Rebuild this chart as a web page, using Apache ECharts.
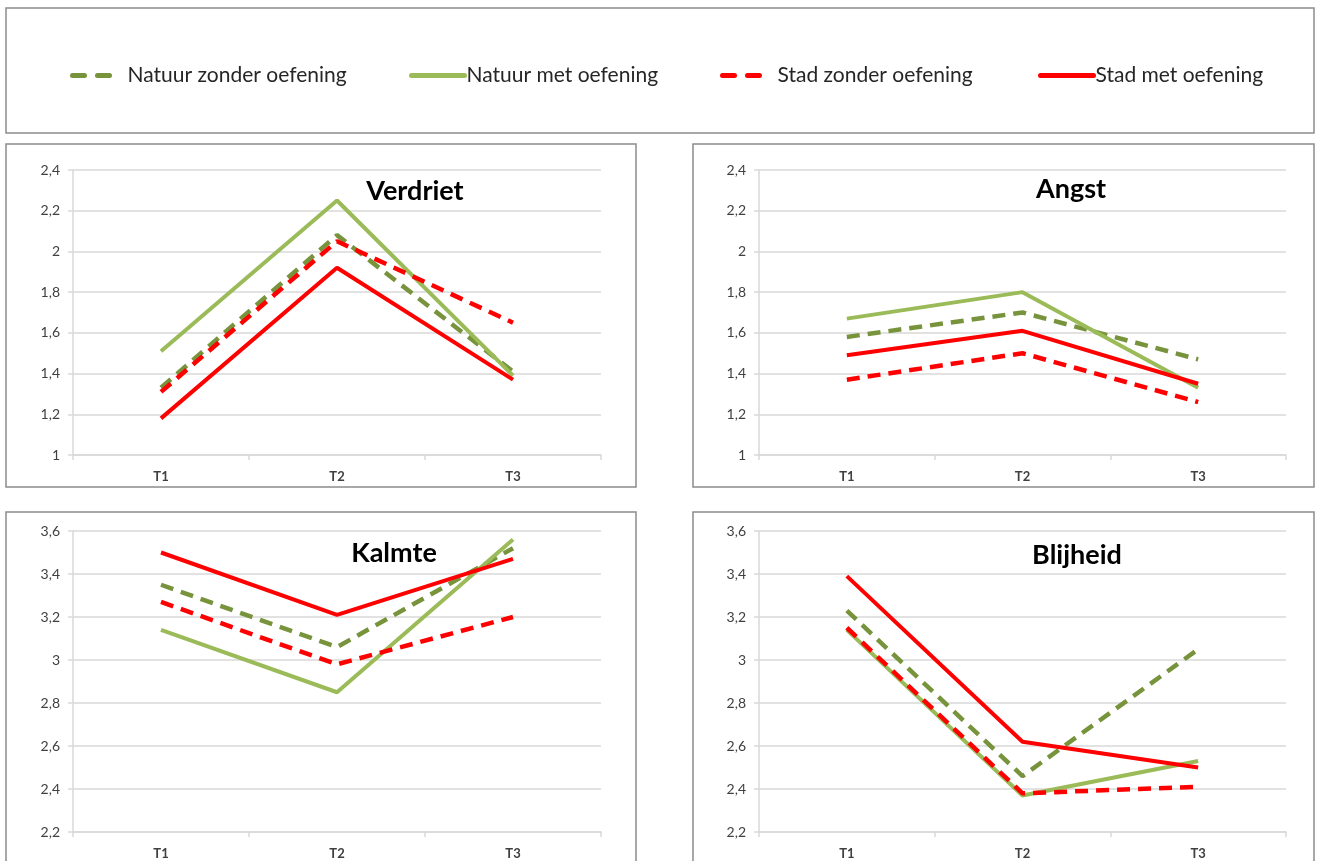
<!DOCTYPE html>
<html><head><meta charset="utf-8">
<script src="https://cdn.jsdelivr.net/npm/echarts@6/dist/echarts.min.js"></script>
<style>html,body{margin:0;padding:0;background:#fff}#c{width:1318px;height:861px}</style>
</head><body><div id="c"></div>
<script>
const categories = ['T1', 'T2', 'T3'];
const seriesNames = ['Natuur zonder oefening', 'Natuur met oefening', 'Stad zonder oefening', 'Stad met oefening'];
const panelTitles = ['Verdriet', 'Angst', 'Kalmte', 'Blijheid'];

// values per panel, order of seriesNames
const verdriet = [
  [1.33, 2.08, 1.41],
  [1.51, 2.25, 1.39],
  [1.31, 2.05, 1.65],
  [1.18, 1.92, 1.37]
];
const angst = [
  [1.58, 1.70, 1.47],
  [1.67, 1.80, 1.33],
  [1.37, 1.50, 1.26],
  [1.49, 1.61, 1.35]
];
const kalmte = [
  [3.35, 3.06, 3.52],
  [3.14, 2.85, 3.56],
  [3.27, 2.98, 3.20],
  [3.50, 3.21, 3.47]
];
const blijheid = [
  [3.23, 2.46, 3.05],
  [3.14, 2.37, 2.53],
  [3.15, 2.38, 2.41],
  [3.39, 2.62, 2.50]
];
const yTicksTop = [1, 1.2, 1.4, 1.6, 1.8, 2, 2.2, 2.4];
const yTicksBottom = [2.2, 2.4, 2.6, 2.8, 3, 3.2, 3.4, 3.6];

const panelData = [verdriet, angst, kalmte, blijheid];
const colors = ['#77933C', '#9BBB59', '#FF0000', '#FF0000'];
const dashed = [true, false, true, false];

const gridPos = [
  {left: 73, top: 170, width: 528, height: 285},
  {left: 759, top: 170, width: 527, height: 285},
  {left: 73, top: 531, width: 528, height: 301},
  {left: 759, top: 531, width: 527, height: 301}
];
const yRanges = [yTicksTop, yTicksTop, yTicksBottom, yTicksBottom];
const titlePos = [[415, 191], [1071, 189], [394, 553], [1077, 555]];
const borders = [
  [6, 8, 1308, 125],
  [6, 144, 630, 343],
  [693, 144, 621, 343],
  [6, 512, 630, 360],
  [693, 512, 621, 360]
];

const fmt = v => String(+(+v).toFixed(1)).replace('.', ',');

const grid = [], xAxis = [], yAxis = [], series = [];
gridPos.forEach((g, i) => {
  grid.push(Object.assign({containLabel: false}, g));
  xAxis.push({
    type: 'category', gridIndex: i, data: categories, boundaryGap: true,
    axisLine: {lineStyle: {color: '#d9d9d9', width: 1.5}},
    axisTick: {show: true, length: 5, lineStyle: {color: '#d9d9d9', width: 1.5}},
    axisLabel: {fontFamily: 'Lato', fontWeight: 'bold', fontSize: 13, color: '#404040', margin: 15}
  });
  const t = yRanges[i];
  yAxis.push({
    type: 'value', gridIndex: i, min: t[0], max: t[t.length - 1], interval: 0.2,
    axisLine: {show: true, lineStyle: {color: '#d9d9d9', width: 1.5}},
    axisTick: {show: true, length: 5, lineStyle: {color: '#d9d9d9', width: 1.5}},
    splitLine: {lineStyle: {color: '#d9d9d9', width: 1.5}},
    axisLabel: {fontFamily: 'Lato', fontSize: 14, color: '#404040', margin: 13, formatter: fmt}
  });
  panelData[i].forEach((vals, s) => {
    series.push({
      name: seriesNames[s], type: 'line', xAxisIndex: i, yAxisIndex: i,
      data: vals, symbol: 'none', silent: true, animation: false,
      lineStyle: {color: colors[s], width: dashed[s] ? 4.5 : 4, type: dashed[s] ? [13, 8] : 'solid'},
      itemStyle: {color: colors[s]}
    });
  });
});

const legendX = [65, 404, 715, 1033];
const legend = seriesNames.map((n, s) => ({
  data: [n], left: legendX[s], top: 60, orient: 'horizontal',
  itemWidth: dashed[s] ? 43 : 53, itemHeight: 14,
  selectedMode: false,
  itemStyle: {opacity: 0, borderWidth: 0},
  lineStyle: dashed[s] ? {type: [12, 13], width: 5, cap: 'round', opacity: 1} : {width: 5, cap: 'round', opacity: 1},
  textStyle: {fontFamily: 'Lato', fontSize: 21, color: '#262626', padding: [0, 0, 0, dashed[s] ? 7 : -3]}
}));

const graphic = [];
borders.forEach(b => graphic.push({
  type: 'rect', shape: {x: b[0], y: b[1], width: b[2], height: b[3]},
  style: {fill: 'none', stroke: '#8c8c8c', lineWidth: 1.5}, silent: true, z: -1
}));
panelTitles.forEach((t, i) => graphic.push({
  type: 'text', x: titlePos[i][0], y: titlePos[i][1],
  style: {text: t, fontFamily: 'Lato', fontWeight: 'bold', fontSize: 27, fill: '#000',
          textAlign: 'center', textVerticalAlign: 'middle'}, silent: true, z: 10
}));

const chart = echarts.init(document.getElementById('c'), null, {renderer: 'canvas'});
chart.setOption({animation: false, grid, xAxis, yAxis, series, legend, graphic});
</script></body></html>
